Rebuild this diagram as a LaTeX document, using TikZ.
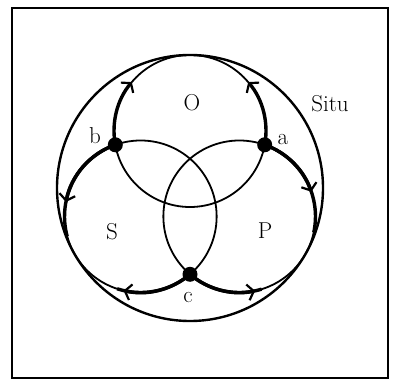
\documentclass[tikz,border=0pt]{standalone}
\usetikzlibrary{arrows.meta}
\begin{document}
\begin{tikzpicture}[x=1pt,y=1pt,
  thin line/.style={line width=1.8pt},
  big line/.style={line width=2.4pt},
  thk/.style={line width=3.4pt},
  barb/.style={-{Straight Barb[length=6pt,width=16pt,line width=2.2pt]}},
  dot/.style={circle,fill=black,inner sep=0pt,minimum size=15pt},
  lbl/.style={font=\fontsize{23}{27}\selectfont,inner sep=0pt}]
\useasboundingbox (-190,-199) rectangle (205,188);
\draw[line width=1.8pt] (-178,-190) rectangle (198,180);
% centres
\coordinate (C) at (0,0);
\coordinate (Oc) at (0,57);
\coordinate (Sc) at (-49.36,-28.5);
\coordinate (Pc) at (49.36,-28.5);
% big circle
\draw[big line] (C) circle[radius=133];
% three circles
\draw[thin line] (Oc) circle[radius=76];
\draw[thin line] (Sc) circle[radius=76];
\draw[thin line] (Pc) circle[radius=76];
% intersection points
\coordinate (b) at (-74.7,43.2);
\coordinate (a) at (74.7,43.2);
\coordinate (c) at (0,-86.3);
% thick arcs with arrows
\draw[thk,barb] (b) arc[start angle=190.5,end angle=140,radius=76];
\draw[thk,barb] (a) arc[start angle=-10.5,end angle=40,radius=76];
\draw[thk,barb] (b) arc[start angle=109.4,end angle=169,radius=76];
\draw[thk] (b) arc[start angle=109.4,end angle=195,radius=76];
\draw[thk,barb] (a) arc[start angle=70.6,end angle=19,radius=76];
\draw[thk] (a) arc[start angle=70.6,end angle=-12,radius=76];
\draw[thk,barb] (c) arc[start angle=310.5,end angle=257,radius=76];
\draw[thk] (c) arc[start angle=310.5,end angle=252,radius=76];
\draw[thk,barb] (c) arc[start angle=229.5,end angle=282,radius=76];
\draw[thk] (c) arc[start angle=229.5,end angle=287,radius=76];
% dots
\node[dot] (nb) at (b) {};
\node[dot] (na) at (a) {};
\node[dot] (nc) at (c) {};
% labels
\node[lbl] (lO) at (2,85) {O};
\node[lbl] (lSitu) at (140,84) {Situ};
\node[lbl] (lb) at (-95,52) {b};
\node[lbl] (la) at (93,48) {a};
\node[lbl] (lS) at (-78,-44) {S};
\node[lbl] (lP) at (75,-43) {P};
\node[lbl] (lc) at (-2,-110) {c};
\end{tikzpicture}
\end{document}
